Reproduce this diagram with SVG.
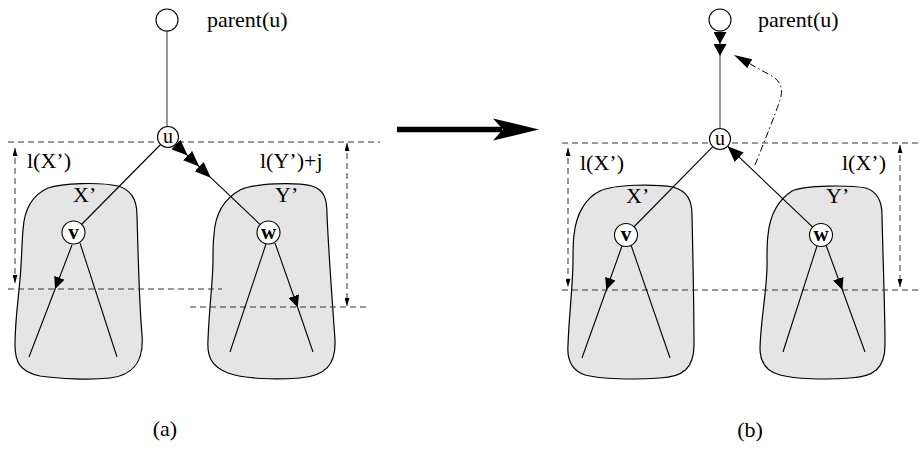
<svg xmlns="http://www.w3.org/2000/svg" width="919" height="449" viewBox="0 0 919 449">
<style>
text{font-family:"Liberation Serif","Times New Roman",serif;fill:#000}
.lbl{font-size:22px}
.nl{font-size:20px;text-anchor:middle}
.nb{font-size:21px;font-weight:bold;text-anchor:middle}
.blob{fill:#e5e5e5;stroke:#000;stroke-width:1.2}
.node{fill:#fff;stroke:#000;stroke-width:1.1}
.edge{fill:none;stroke:#000;stroke-width:1.1}
.gray{fill:none;stroke:#555;stroke-width:1.2}
.dash{fill:none;stroke:#333;stroke-width:1;stroke-dasharray:6,4}
.dd{fill:none;stroke:#000;stroke-width:1;stroke-dasharray:7,3,1.5,3}
</style>
<defs>
<marker id="head" viewBox="0 0 16 13" refX="16" refY="6.5" markerWidth="16" markerHeight="13" markerUnits="userSpaceOnUse" orient="auto"><path d="M0,0 L16,6.5 L0,13 Z" fill="#000"/></marker>
<marker id="headP" viewBox="0 0 12 13" refX="12" refY="6.5" markerWidth="12" markerHeight="13" markerUnits="userSpaceOnUse" orient="auto"><path d="M0,0 L12,6.5 L0,13 Z" fill="#000"/></marker>
<marker id="headS" viewBox="0 0 12 11" refX="12" refY="5.5" markerWidth="12" markerHeight="11" markerUnits="userSpaceOnUse" orient="auto"><path d="M0,0 L12,5.5 L0,11 Z" fill="#000"/></marker>
<marker id="headD" viewBox="0 0 18 10" refX="18" refY="5" markerWidth="18" markerHeight="10" markerUnits="userSpaceOnUse" orient="auto"><path d="M0,0 L18,5 L0,10 Z" fill="#000"/></marker>
<marker id="dim" viewBox="0 0 8 5" refX="8" refY="2.5" markerWidth="8" markerHeight="5" markerUnits="userSpaceOnUse" orient="auto-start-reverse"><path d="M0,0 L8,2.5 L0,5 Z" fill="#000"/></marker>
</defs>

<!-- Panel (a) -->
<g id="a-Xblob"><path class="blob" d="M23,230 C24,212 30,196 48,188 C62,183 100,182 118,186 C132,190 137,200 137,215 C138,250 139,300 142,335 C144,360 135,375 110,378 C90,380 60,379 40,376 C20,372 15,362 15,345 C15,315 20,290 21,265 C22,250 22,240 23,230 Z"/><text class="lbl" x="73" y="202">X’</text></g>
<g id="a-Yblob"><path class="blob" d="M214,235 C215,215 222,200 240,190 C255,183 295,182 312,186 C325,190 327,200 327,215 C329,260 333,310 335,340 C336,365 325,376 300,378 C275,380 245,379 228,373 C210,366 207,355 208,340 C209,310 213,280 213,260 C213,250 213,242 214,235 Z"/><text class="lbl" x="275" y="202">Y’</text></g>

<!-- Panel (b) -->
<g id="b-Xblob"><path class="blob" d="M574,235 C576,215 585,198 600,191 C615,184 655,184 673,187 C687,191 692,200 692,215 C693,260 694,310 694,345 C694,368 683,377 660,378 C635,380 600,379 585,375 C570,370 567,358 568,345 C569,315 573,285 573,260 C573,250 573,242 574,235 Z"/><text class="lbl" x="626" y="203">X’</text></g>
<g id="b-Yblob"><path class="blob" d="M768,235 C770,215 778,200 792,191 C805,185 850,185 866,188 C878,192 882,202 882,215 C883,260 885,310 885,345 C885,368 874,377 850,378 C825,380 795,379 780,375 C765,371 760,360 760,348 C761,315 768,285 767,260 C767,250 767,242 768,235 Z"/><text class="lbl" x="826" y="203">Y’</text></g>

<g id="guides">
<line class="dash" x1="8" y1="142" x2="380" y2="142"/>
<line class="dash" x1="8" y1="289" x2="222" y2="289"/>
<line class="dash" x1="190" y1="307" x2="368" y2="307"/>
<line class="dash" x1="562" y1="143" x2="919" y2="143"/>
<line class="dash" x1="562" y1="290" x2="919" y2="290"/>
<path class="dash" d="M15,148 L15,283" marker-start="url(#dim)" marker-end="url(#dim)"/>
<path class="dash" d="M347,143 L347,306" marker-start="url(#dim)" marker-end="url(#dim)"/>
<path class="dash" d="M568,148 L568,287" marker-start="url(#dim)" marker-end="url(#dim)"/>
<path class="dash" d="M900,145 L900,287" marker-start="url(#dim)" marker-end="url(#dim)"/>
</g>

<g id="connectors">
<!-- (a) -->
<line class="gray" x1="167" y1="31" x2="167" y2="126.5"/>
<line class="edge" x1="160.6" y1="144.5" x2="81.5" y2="224.5"/>
<polyline class="edge" points="175.6,144.2 187.6,155.6 199.2,166.6 210.8,177.7 260.2,224.6" marker-mid="url(#head)"/>
<polyline class="edge" points="72,245 55.1,289 29,357" marker-mid="url(#headS)"/>
<line class="edge" x1="80" y1="243" x2="117" y2="357"/>
<line class="edge" x1="266" y1="244" x2="230" y2="352"/>
<polyline class="edge" points="275,243 297.7,307.5 313,352" marker-mid="url(#headS)"/>
<!-- (b) -->
<polyline class="gray" points="720,31 720,44 720,56 720,128.5" marker-mid="url(#headP)"/>
<line class="edge" x1="712.8" y1="146.6" x2="633.8" y2="227"/>
<path class="edge" d="M813,227.4 L727.6,146.2" marker-end="url(#head)"/>
<polyline class="edge" points="622,246 606.3,290 582,358" marker-mid="url(#headS)"/>
<line class="edge" x1="631" y1="245" x2="670" y2="358"/>
<line class="edge" x1="817" y1="246" x2="783" y2="352"/>
<polyline class="edge" points="826,245 842.4,290 865,352" marker-mid="url(#headS)"/>
<path class="dd" d="M755,165 C765,140 775,115 780,100 C784,88 780,80 770,75 L734,55" marker-end="url(#headD)"/>
<!-- transition arrow -->
<line x1="397" y1="129.5" x2="502" y2="129.5" stroke="#000" stroke-width="5.5"/>
<path d="M539,129.5 L493,118.5 L503,129.5 L493,140.5 Z" fill="#000"/>
</g>

<g id="a-parent"><circle class="node" cx="167" cy="20" r="11"/><text class="lbl" x="207" y="27">parent(u)</text></g>
<g id="a-u"><circle class="node" cx="168" cy="137" r="10.5"/><text class="nl" x="168" y="142.5">u</text></g>
<g id="a-v"><circle class="node" cx="73.5" cy="232.5" r="11.5"/><text class="nb" x="73.5" y="238.5">v</text></g>
<g id="a-w"><circle class="node" cx="268.5" cy="232.5" r="11.5"/><text class="nb" x="268.5" y="238.5">w</text></g>
<g id="b-parent"><circle class="node" cx="720" cy="20" r="11"/><text class="lbl" x="758" y="27">parent(u)</text></g>
<g id="b-u"><circle class="node" cx="720" cy="139" r="10.5"/><text class="nl" x="720" y="144.5">u</text></g>
<g id="b-v"><circle class="node" cx="626" cy="235" r="11.5"/><text class="nb" x="626" y="241">v</text></g>
<g id="b-w"><circle class="node" cx="821" cy="235" r="11.5"/><text class="nb" x="821" y="241">w</text></g>

<g id="labels">
<text class="lbl" x="27" y="168">l(X’)</text>
<text class="lbl" x="260" y="168">l(Y’)+j</text>
<text class="lbl" x="580" y="170">l(X’)</text>
<text class="lbl" x="842" y="170">l(X’)</text>
<text class="lbl" x="165" y="436" text-anchor="middle">(a)</text>
<text class="lbl" x="750" y="437" text-anchor="middle">(b)</text>
</g>
</svg>
